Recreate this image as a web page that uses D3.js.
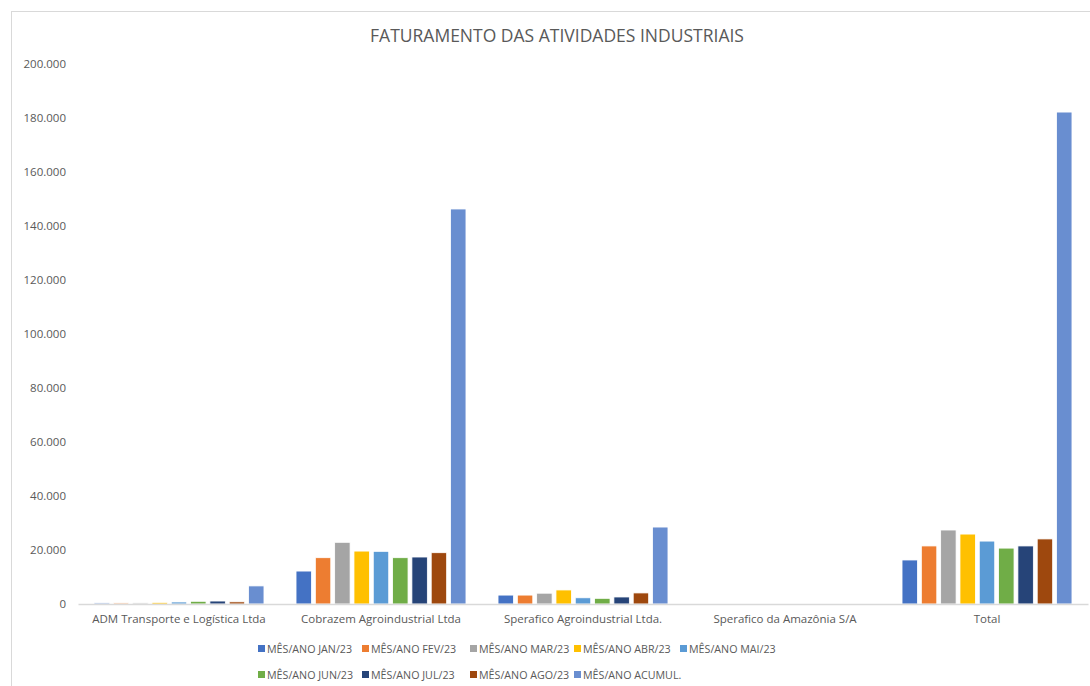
<!DOCTYPE html>
<html>
<head>
<meta charset="utf-8">
<script src="https://cdn.jsdelivr.net/npm/d3@7"></script>
<style>
  body { margin: 0; background: #fff; }
  svg text { font-family: "Open Sans", "Noto Sans", sans-serif; fill: #595959; }
</style>
</head>
<body>
<svg id="chart" width="1090" height="686"></svg>
<script>
// categories and series
const categories = ["ADM Transporte e Logística Ltda", "Cobrazem Agroindustrial Ltda", "Sperafico Agroindustrial Ltda.", "Sperafico da Amazônia S/A", "Total"];
const seriesNames = ["MÊS/ANO JAN/23", "MÊS/ANO FEV/23", "MÊS/ANO MAR/23", "MÊS/ANO ABR/23", "MÊS/ANO MAI/23", "MÊS/ANO JUN/23", "MÊS/ANO JUL/23", "MÊS/ANO AGO/23", "MÊS/ANO ACUMUL."];
const seriesColors = ["#4472C4", "#ED7D31", "#A5A5A5", "#FFC000", "#5B9BD5", "#70AD47", "#264478", "#9E480E", "#698ED0"];
// one array per series, in category order
const jan = [400, 12200, 3300, 0, 16300];
const fev = [400, 17150, 3300, 0, 21500];
const mar = [400, 22850, 4000, 0, 27400];
const abr = [600, 19600, 5200, 0, 25900];
const mai = [750, 19500, 2300, 0, 23300];
const jun = [1000, 17150, 2100, 0, 20700];
const jul = [1100, 17400, 2600, 0, 21500];
const ago = [800, 19000, 4100, 0, 24100];
const acumul = [6700, 146300, 28500, 0, 182200];
const yTicks = [0, 20000, 40000, 60000, 80000, 100000, 120000, 140000, 160000, 180000, 200000];

const allSeries = [jan, fev, mar, abr, mai, jun, jul, ago, acumul];

const svg = d3.select("#chart");

// chart border
svg.append("rect")
	.attr("x", 11.5).attr("y", 11.5)
	.attr("width", 1100).attr("height", 700)
	.attr("fill", "none")
	.attr("stroke", "#d9d9d9");

const x0 = d3.scaleBand().domain(categories).range([78, 1088]);
const x1 = d3.scaleBand().domain(d3.range(seriesNames.length)).range([0, x0.bandwidth()]).paddingInner(0.2).paddingOuter(0.83);
const y = d3.scaleLinear().domain([0, 200000]).range([604, 64]);

// title
svg.append("text")
	.attr("x", 557).attr("y", 42)
	.attr("text-anchor", "middle")
	.attr("font-size", 17.5)
	.text("FATURAMENTO DAS ATIVIDADES INDUSTRIAIS");

// y axis labels
const fmt = d3.formatLocale({ decimal: ",", thousands: ".", grouping: [3], currency: ["R$", ""] }).format(",d");
const yAxis = d3.axisLeft(y).tickValues(yTicks).tickFormat(fmt).tickSize(0).tickPadding(0);
svg.append("g")
	.attr("transform", "translate(66,0)")
	.call(yAxis)
	.call(g => g.select(".domain").remove())
	.selectAll("text")
	.attr("font-size", 11.5)
	.attr("font-family", null)
	.attr("fill", null);

// bars
const groups = svg.append("g")
	.selectAll("g")
	.data(categories)
	.enter()
	.append("g")
	.attr("transform", d => `translate(${x0(d)},0)`);

groups.selectAll("rect")
	.data((d, ci) => allSeries.map((s, si) => ({ si: si, v: s[ci] })))
	.enter()
	.append("rect")
	.attr("x", d => x1(d.si))
	.attr("y", d => y(d.v))
	.attr("width", x1.bandwidth())
	.attr("height", d => y(0) - y(d.v))
	.attr("fill", d => seriesColors[d.si])
	.attr("stroke", "#fff")
	.attr("stroke-width", 0.8);

// x axis baseline + category labels
const xAxis = d3.axisBottom(x0).tickSize(0).tickPadding(11);
svg.append("g")
	.attr("transform", "translate(0,604)")
	.call(xAxis)
	.call(g => g.select(".domain").attr("stroke", "#d9d9d9").attr("stroke-width", 1.5))
	.selectAll("text")
	.attr("font-size", 11.5)
	.attr("font-family", null)
	.attr("fill", null);

// legend: two rows of five columns
const legendCols = [258, 362, 470, 574, 680];
const items = svg.append("g")
	.selectAll("g")
	.data(seriesNames)
	.enter()
	.append("g")
	.attr("transform", (d, i) => `translate(${legendCols[i % 5]},${i < 5 ? 649 : 675})`);

items.append("rect")
	.attr("x", 0).attr("y", -4)
	.attr("width", 7).attr("height", 7)
	.attr("fill", (d, i) => seriesColors[i]);

items.append("text")
	.attr("x", 9).attr("y", 0)
	.attr("dy", "0.35em")
	.attr("font-size", 10.7)
	.text(d => d);
</script>
</body>
</html>
